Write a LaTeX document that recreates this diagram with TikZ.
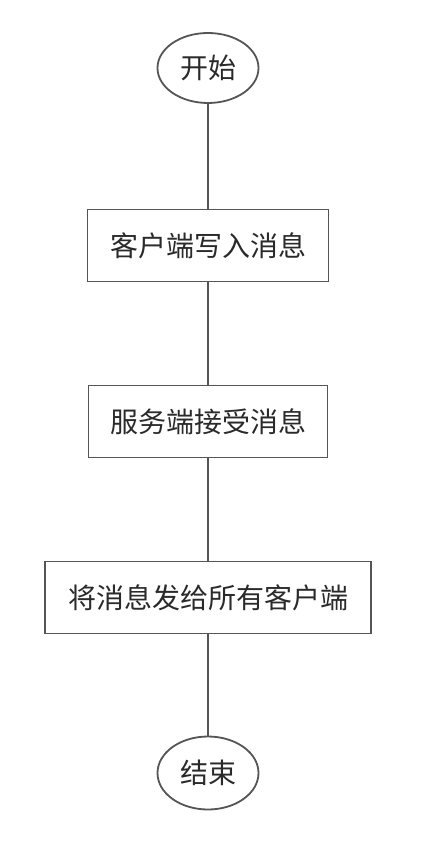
\documentclass[tikz,border=0pt]{standalone}
\usepackage{fontspec}
\setmainfont{Noto Sans CJK SC}
\usetikzlibrary{shapes.geometric}
\definecolor{linegray}{HTML}{555555}
\definecolor{textgray}{HTML}{2A2A2A}
\tikzset{
  base/.style={draw=linegray, line width=1.8pt, text=textgray, font=\fontsize{28}{32}\selectfont, inner sep=0pt, outer sep=0pt},
  terminal/.style={base, ellipse, minimum width=101pt, minimum height=70pt},
  procbox/.style={base, rectangle, minimum height=72pt},
  link/.style={draw=linegray, line width=1.8pt}
}
\begin{document}
\begin{tikzpicture}[x=1pt,y=-1pt]
\useasboundingbox[fill=white] (0,0) rectangle (434,850);
\node[terminal] (start) at (208,68) {开始};
\node[procbox, minimum width=241pt] (b1) at (208,245.5) {客户端写入消息};
\node[procbox, minimum width=239pt] (b2) at (208,421.5) {服务端接受消息};
\node[procbox, minimum width=326pt] (b3) at (208,597.5) {将消息发给所有客户端};
\node[terminal, minimum height=73pt] (stop) at (208,773) {结束};
\draw[link] (start) -- (b1);
\draw[link] (b1) -- (b2);
\draw[link] (b2) -- (b3);
\draw[link] (b3) -- (stop);
\end{tikzpicture}
\end{document}
